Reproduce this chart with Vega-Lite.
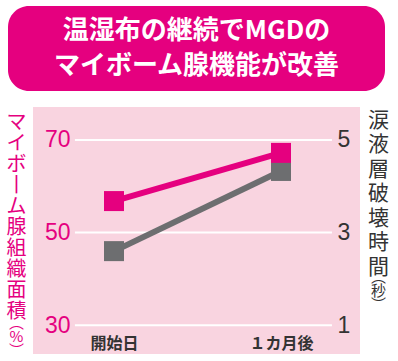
{
  "$schema": "https://vega.github.io/schema/vega-lite/v6.json",
  "padding": {"left": 6, "top": 6, "right": 5, "bottom": 0},
  "background": "white",
  "config": {"view": {"stroke": null}, "font": "Noto Sans CJK JP"},
  "bounds": "flush",
  "center": true,
  "spacing": 16,
  "vconcat": [
    {
      "width": 377,
      "height": 85,
      "data": {"values": [{"id": 1}]},
      "layer": [
        {"mark": {"type": "rect", "fill": "#E5007F", "cornerRadius": 21}, "encoding": {}},
        {
          "mark": {"type": "text", "color": "white", "fontSize": 26, "fontWeight": "bold", "lineHeight": 35, "align": "center", "baseline": "middle", "dy": -17.5, "font": "Noto Sans CJK JP"},
          "encoding": {"text": {"value": ["温湿布の継続でMGDの", "マイボーム腺機能が改善"]}}
        }
      ]
    },
    {
      "width": 327,
      "height": 247,
      "view": {"fill": "#F9D4E0", "stroke": null},
      "layer": [
        {
          "data": {"values": [{"v": 30}, {"v": 50}, {"v": 70}]},
          "mark": {"type": "rule", "color": "white", "strokeWidth": 2},
          "encoding": {
            "x": {"datum": -0.234, "type": "quantitative", "scale": {"domain": [-0.485, 1.473], "nice": false, "zero": false}, "axis": {"values": [0, 1], "labelExpr": "datum.value == 0 ? '開始日' : '１カ月後'", "title": null, "domain": false, "ticks": false, "grid": false, "offset": -20, "labelPadding": 1, "labelFontSize": 16, "labelFontWeight": "bold", "labelColor": "#333333", "labelFont": "Noto Sans CJK JP", "labelFlush": false, "labelOverlap": false}},
            "x2": {"datum": 1.305},
            "y": {"field": "v", "type": "quantitative", "scale": {"domain": [23.8, 77.1], "nice": false, "zero": false}, "axis": null}
          }
        },
        {
          "data": {"name": "series", "values": [{"month": 0, "area": 56.8, "tbut": 2.6}, {"month": 1, "area": 67.2, "tbut": 4.33}]},
          "mark": {"type": "line", "color": "#6D6E70", "strokeWidth": 6},
          "encoding": {
            "x": {"field": "month", "type": "quantitative", "scale": {"domain": [-0.485, 1.473], "nice": false, "zero": false}, "axis": {"values": [0, 1], "labelExpr": "datum.value == 0 ? '開始日' : '１カ月後'", "title": null, "domain": false, "ticks": false, "grid": false, "offset": -20, "labelPadding": 1, "labelFontSize": 16, "labelFontWeight": "bold", "labelColor": "#333333", "labelFont": "Noto Sans CJK JP", "labelFlush": false, "labelOverlap": false}},
            "y": {"field": "tbut", "type": "quantitative", "scale": {"domain": [0.38, 5.71], "nice": false, "zero": false},
              "axis": {"orient": "right", "offset": -26, "values": [1, 3, 5], "labelFontSize": 23, "labelColor": "#333333", "labelFont": "Liberation Sans", "labelPadding": 3, "domain": false, "ticks": false, "grid": false,
                "title": ["涙", "液", "層", "破", "壊", "時", "間"], "titleAngle": 0, "titleX": 44, "titleY": 2, "titleAlign": "center", "titleBaseline": "top", "titleFontSize": 21, "titleFontWeight": "normal", "titleColor": "#333333", "titleLineHeight": 24.5, "titleFont": "Noto Sans CJK JP"}}
          }
        },
        {
          "data": {"name": "series"},
          "mark": {"type": "square", "color": "#6D6E70", "size": 400, "opacity": 1},
          "encoding": {
            "x": {"field": "month", "type": "quantitative", "scale": {"domain": [-0.485, 1.473], "nice": false, "zero": false}},
            "y": {"field": "tbut", "type": "quantitative", "scale": {"domain": [0.38, 5.71], "nice": false, "zero": false},
              "axis": {"orient": "right", "offset": -26, "labels": false, "domain": false, "ticks": false, "grid": false,
                "title": ["︵", "秒", "︶"], "titleAngle": 0, "titleX": 44, "titleY": 162, "titleAlign": "center", "titleBaseline": "top", "titleFontSize": 15, "titleFontWeight": "normal", "titleColor": "#333333", "titleLineHeight": 14, "titleFont": "Noto Sans CJK JP"}}
          }
        },
        {
          "data": {"name": "series"},
          "mark": {"type": "line", "color": "#E5007F", "strokeWidth": 6},
          "encoding": {
            "x": {"field": "month", "type": "quantitative", "scale": {"domain": [-0.485, 1.473], "nice": false, "zero": false}},
            "y": {"field": "area", "type": "quantitative", "scale": {"domain": [23.8, 77.1], "nice": false, "zero": false},
              "axis": {"orient": "left", "offset": -41, "values": [30, 50, 70], "labelFontSize": 23, "labelColor": "#E5007F", "labelFont": "Liberation Sans", "labelPadding": 4, "domain": false, "ticks": false, "grid": false,
                "title": ["マ", "イ", "ボ", "丨", "ム", "腺", "組", "織", "面", "積"], "titleAngle": 0, "titleX": -58, "titleY": 5, "titleAlign": "center", "titleBaseline": "top", "titleFontSize": 20, "titleFontWeight": "normal", "titleColor": "#E5007F", "titleLineHeight": 21, "titleFont": "Noto Sans CJK JP"}}
          }
        },
        {
          "data": {"name": "series"},
          "mark": {"type": "square", "color": "#E5007F", "size": 400, "opacity": 1},
          "encoding": {
            "x": {"field": "month", "type": "quantitative", "scale": {"domain": [-0.485, 1.473], "nice": false, "zero": false}},
            "y": {"field": "area", "type": "quantitative", "scale": {"domain": [23.8, 77.1], "nice": false, "zero": false},
              "axis": {"orient": "left", "offset": -41, "labels": false, "domain": false, "ticks": false, "grid": false,
                "title": ["︵", "%", "︶"], "titleAngle": 0, "titleX": -58, "titleY": 208, "titleAlign": "center", "titleBaseline": "top", "titleFontSize": 15, "titleFontWeight": "normal", "titleColor": "#E5007F", "titleLineHeight": 14, "titleFont": "Noto Sans CJK JP"}}
          }
        }
      ],
      "resolve": {"scale": {"y": "independent"}, "axis": {"y": "independent"}}
    }
  ]
}
